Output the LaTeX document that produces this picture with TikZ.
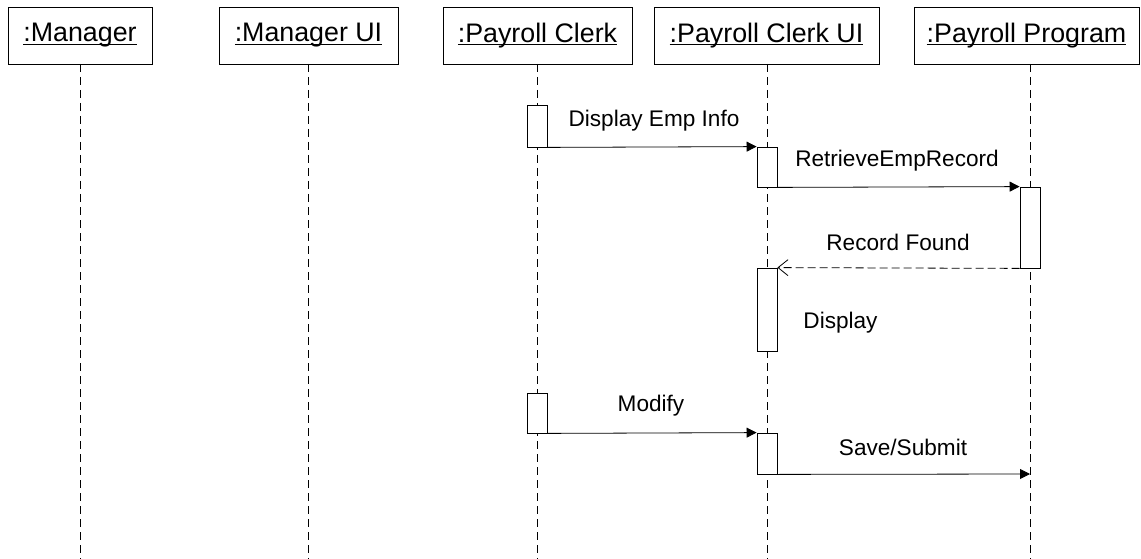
\documentclass[tikz,border=0pt]{standalone}
\usepackage{fontspec}
\setmainfont{Liberation Sans}
\usetikzlibrary{arrows.meta,calc}
\newcommand\myul[1]{\setbox0\hbox{#1}\rlap{\rule[-3pt]{\wd0}{1.1pt}}\box0}
\begin{document}
\begin{tikzpicture}[x=1pt,y=-1pt,
  obj/.style={draw,line width=0.8pt,minimum height=57pt,inner sep=0pt,font=\fontsize{26.8}{30}\selectfont},
  act/.style={draw,line width=0.8pt,fill=white,minimum width=20pt,inner sep=0pt},
  life/.style={line width=0.8pt,dash pattern=on 8pt off 5pt},
  msg/.style={line width=0.8pt,-{Triangle[length=10pt,width=10pt]}},
  ret/.style={line width=0.8pt,dash pattern=on 8pt off 4pt,-{Straight Barb[length=10pt,width=16pt]}},
  lbl/.style={font=\fontsize{22.6}{26}\selectfont,inner sep=0pt}]
\useasboundingbox (0,0) rectangle (1141,559);
\node[obj,minimum width=144pt] (m) at (80,35.5) {\myul{:Manager}};
\node[obj,minimum width=179pt] (mu) at (308.5,35.5) {\myul{:Manager UI}};
\node[obj,minimum width=189pt] (c) at (537.5,35.5) {\myul{:Payroll Clerk}};
\node[obj,minimum width=225pt] (cu) at (766.5,35.5) {\myul{:Payroll Clerk UI}};
\node[obj,minimum width=225pt] (p) at (1026.5,35.5) {\myul{:Payroll Program}};
\coordinate (mE) at (80,559);
\coordinate (muE) at (308,559);
\coordinate (cE) at (537,559);
\coordinate (cuE) at (767,559);
\coordinate (pE) at (1030,559);
\draw[life] (80,64) -- (mE);
\draw[life] (308,64) -- (muE);
\draw[life] (537,64) -- (cE);
\draw[life] (767,64) -- (cuE);
\draw[life] (1030,64) -- (pE);
% activations
\node[act,minimum height=42pt] (c1) at (537,126) {};
\node[act,minimum height=40pt] (u1) at (767,167) {};
\node[act,minimum height=81pt] (p1) at (1030,227.5) {};
\node[act,minimum height=83pt] (u2) at (767,309.5) {};
\node[act,minimum height=40pt] (c2) at (537,413) {};
\node[act,minimum height=41pt] (u3) at (767,453.5) {};
\coordinate (pS) at (1030,474);
% messages
\draw[msg] (c1.south east) -- (u1.north west);
\draw[msg] (u1.south east) -- (p1.north west);
\draw[ret] (p1.south west) -- (u2.north east);
\draw[msg] (c2.south east) -- (u3.north west);
\draw[msg] (u3.south east) -- (pS);
% labels
\node[lbl] (l1) at (654,121) {Display Emp Info};
\node[lbl] (l2) at (897,161) {RetrieveEmpRecord};
\node[lbl] (l3) at (898,242) {Record Found};
\node[lbl] (l4) at (840.5,323) {Display};
\node[lbl] (l5) at (651,406) {Modify};
\node[lbl] (l6) at (903,447) {Save/Submit};
\end{tikzpicture}
\end{document}
